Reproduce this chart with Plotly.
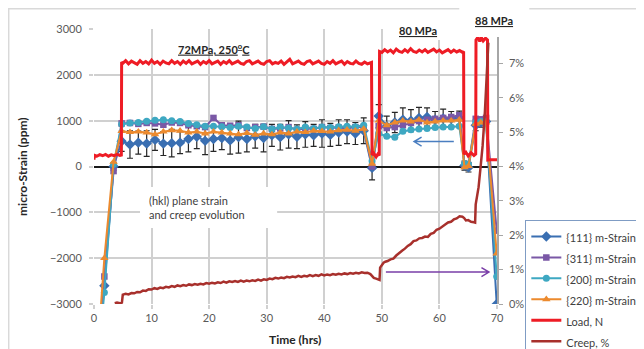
import plotly.graph_objects as go

# ---------------- data ----------------
# strain measurement times (hrs)
t_strain = [1.0, 1.8, 3.4,
            4.8, 6.25, 7.7, 9.15, 10.6, 12.05, 13.5, 14.95, 16.4, 17.85,
            19.3, 20.75, 22.2, 23.65, 25.1, 26.55, 28.0, 29.45, 30.9, 32.35,
            33.8, 35.25, 36.7, 38.15, 39.6, 41.05, 42.5, 43.95, 45.4, 46.85,
            48.3,
            49.45, 50.85, 52.25, 53.65, 55.05, 56.45, 57.85, 59.25, 60.65, 62.05, 63.45,
            64.35, 65.05,
            66.3, 67.2, 68.1,
            69.95]

strain_111 = [-3700, -2600, 0,
              550, 480, 520, 500, 580, 500, 510, 520, 600, 650,
              560, 600, 620, 570, 640, 600, 660, 620, 680, 640,
              700, 650, 700, 680, 720, 690, 740, 760, 720, 780,
              -30,
              1100, 880, 960, 1020, 1000, 1060, 1080, 1020, 1050, 1040, 1060,
              20, -20,
              900, 960, 980,
              -3000]
err_111 = [0, 0, 80,
           220, 300, 250, 280, 230, 260, 300, 240, 280, 260,
           300, 270, 250, 300, 350, 280, 260, 300, 240, 280,
           300, 260, 280, 240, 300, 250, 280, 260, 240, 280,
           260,
           250, 220, 220, 260, 240, 230, 200, 180, 200, 160, 150,
           100, 100,
           120, 100, 100,
           0]
strain_311 = [-4000, -2400, -100,
              940, 950, 930, 950, 940, 910, 960, 950, 900, 880,
              860, 1060, 900, 890, 900, 840, 860, 870, 820, 830,
              860, 800, 830, 820, 860, 840, 850, 830, 860, 860,
              0,
              880, 840, 860, 900, 950, 990, 1020, 1040, 1060, 1080, 1120,
              40, 30,
              1040, 1030, 1060,
              -1400]
strain_200 = [-3800, -2750, 50,
              920, 950, 960, 990, 1010, 1020, 1000, 980, 940, 910,
              880, 880, 870, 850, 880, 860, 830, 870, 820, 860,
              840, 820, 860, 830, 860, 850, 870, 880, 870, 900,
              120,
              720, 660, 640, 770, 800, 820, 830, 850, 860, 860, 880,
              60, 50,
              960, 980, 990,
              -2400]
strain_220 = [-3400, -2000, 100,
              770, 750, 760, 740, 700, 760, 790, 780, 740, 760,
              720, 760, 740, 720, 700, 730, 690, 720, 700, 740,
              720, 760, 750, 780, 770, 760, 790, 800, 780, 820,
              60,
              1000, 900, 960, 1000, 980, 1020, 960, 980, 1000, 1000, 1020,
              -20, 10,
              930, 960, 960,
              -1900]

# load (N) record
load_t = [0, 0.05, 0.5, 1, 1.5, 2, 2.5, 3, 3.5, 4, 4.5, 4.75,
          4.8, 5, 5.5, 6, 6.5, 7, 7.5, 8, 8.5, 9, 9.5, 10, 10.5, 11, 11.5, 12, 12.5,
          13, 13.5, 14, 14.5, 15, 15.5, 16, 16.5, 17, 17.5, 18, 18.5, 19, 19.5, 20,
          20.5, 21, 21.5, 22, 22.5, 23, 23.5, 24, 24.5, 25, 25.5, 26, 26.5, 27, 27.5,
          28, 28.5, 29, 29.5, 30, 30.5, 31, 31.5, 32, 32.5, 33, 33.5, 34, 34.5, 35,
          35.5, 36, 36.5, 37, 37.5, 38, 38.5, 39, 39.5, 40, 40.5, 41, 41.5, 42, 42.5,
          43, 43.5, 44, 44.5, 45, 45.5, 46, 46.5, 47, 47.5, 48, 48.2,
          48.3, 48.6, 49, 49.3, 49.55,
          49.6, 50, 50.5, 51, 51.5, 52, 52.5, 53, 53.5, 54, 54.5, 55, 55.5, 56, 56.5,
          57, 57.5, 58, 58.5, 59, 59.5, 60, 60.5, 61, 61.5, 62, 62.5, 63, 63.5, 64, 64.2,
          64.25, 64.6, 65, 65.5, 66, 66.3,
          66.35, 66.7, 67, 67.3, 67.6, 68, 68.35,
          68.4, 69, 70]
load_n = [150, 245, 225, 260, 235, 265, 225, 255, 235, 265, 240, 250,
          2280,
          2250, 2310, 2240, 2300, 2270, 2230, 2310, 2250, 2290, 2240,
          2320, 2250, 2290, 2230, 2300, 2260, 2240, 2310, 2250, 2290,
          2230, 2300, 2250, 2310, 2240, 2270, 2300, 2230, 2290, 2250,
          2310, 2240, 2270, 2300, 2230, 2290, 2250, 2310, 2240, 2270,
          2300, 2250, 2230, 2290, 2310, 2240, 2270, 2300, 2250, 2230,
          2290, 2310, 2240, 2270, 2250, 2300, 2230, 2290, 2340, 2240,
          2270, 2300, 2250, 2230, 2290, 2310, 2240, 2270, 2300, 2250,
          2230, 2290, 2250, 2310, 2240, 2270, 2300, 2230, 2290, 2250,
          2240, 2300, 2250, 2230, 2280, 2240, 2260,
          2270,
          250, 290, 210, 270, 240,
          2510,
          2490, 2550, 2500, 2540, 2480, 2560, 2510, 2490, 2550, 2500,
          2570, 2510, 2490, 2540, 2500, 2550, 2490, 2520, 2560, 2500,
          2540, 2480, 2520, 2550, 2490, 2540, 2500, 2530, 2490,
          2510,
          270, 310, 230, 300, 240, 270,
          2760, 2820, 2730, 2810, 2740, 2800, 2760,
          140, 150, 145]

# creep (%) record
creep_t = [3.6, 4.0, 4.5, 4.85,
           5, 5.5, 6, 6.5, 7, 7.5, 8, 8.5, 9, 9.5, 10, 10.5, 11, 11.5, 12, 12.5,
           13, 13.5, 14, 14.5, 15, 15.5, 16, 16.5, 17, 17.5, 18, 18.5, 19, 19.5, 20,
           20.5, 21, 21.5, 22, 22.5, 23, 23.5, 24, 24.5, 25, 25.5, 26, 26.5, 27, 27.5,
           28, 28.5, 29, 29.5, 30, 30.5, 31, 31.5, 32, 32.5, 33, 33.5, 34, 34.5, 35,
           35.5, 36, 36.5, 37, 37.5, 38, 38.5, 39, 39.5, 40, 40.5, 41, 41.5, 42, 42.5,
           43, 43.5, 44, 44.5, 45, 45.5, 46, 46.5, 47, 47.5, 48,
           48.3, 48.6, 49, 49.3, 49.6,
           49.7, 50, 50.3, 50.6, 51, 51.5, 52, 52.5, 53, 53.5, 54, 54.5, 55, 55.5, 56,
           56.5, 57, 57.5, 58, 58.5, 59, 59.5, 60, 60.5, 61, 61.5, 62, 62.5, 63, 63.5, 64,
           64.3, 64.6, 65, 65.5, 66, 66.2,
           66.3, 66.8, 67.1, 67.5, 67.9, 68.2, 68.5]
creep_pct = [0.02, 0.04, 0.02, 0.04,
             0.27, 0.30, 0.28, 0.32, 0.31, 0.35, 0.34, 0.39, 0.38, 0.43,
             0.42, 0.46, 0.44, 0.48, 0.46, 0.50, 0.48, 0.52, 0.50, 0.54,
             0.52, 0.55, 0.53, 0.57, 0.55, 0.58, 0.56, 0.59, 0.57, 0.61,
             0.59, 0.62, 0.60, 0.63, 0.61, 0.65, 0.62, 0.66, 0.64, 0.67,
             0.64, 0.68, 0.65, 0.68, 0.66, 0.69, 0.67, 0.71, 0.68, 0.72,
             0.70, 0.74, 0.72, 0.76, 0.74, 0.77, 0.75, 0.79, 0.77, 0.80,
             0.78, 0.82, 0.79, 0.82, 0.80, 0.84, 0.81, 0.84, 0.82, 0.86,
             0.83, 0.86, 0.84, 0.87, 0.85, 0.88, 0.86, 0.89, 0.87, 0.90,
             0.88, 0.91, 0.89, 0.92, 0.90, 0.91, 0.87,
             0.82, 0.76, 0.74, 0.72, 0.70,
             1.06, 1.15, 1.20, 1.23, 1.25, 1.30, 1.32, 1.41, 1.49, 1.55, 1.61, 1.69, 1.74,
             1.83, 1.85, 1.91, 1.92, 1.96, 1.95, 2.04, 2.07, 2.16, 2.19, 2.26, 2.31,
             2.37, 2.39, 2.46, 2.49, 2.55, 2.54,
             2.50, 2.43, 2.44, 2.39, 2.38, 2.37,
             2.90, 3.40, 3.90, 4.60, 5.60, 6.60, 7.60]

x_ticks = [0, 10, 20, 30, 40, 50, 60, 70]
y_ticks = [-3000, -2000, -1000, 0, 1000, 2000, 3000]
y2_ticks = [0, 1, 2, 3, 4, 5, 6, 7]
y2_labels = ["0%", "1%", "2%", "3%", "4%", "5%", "6%", "7%"]

# ---------------- styling ----------------
FONT = "Lato"
C111, C311, C200, C220 = "#3A6FB2", "#7A58A6", "#3EA8C2", "#EC8A2E"
CLOAD, CCREEP = "#EE1C25", "#A8302C"
GRID = "#D0D0D0"
OFF = 8                      # page (body) margin offset in screenshot
W, H = 644 - OFF, 349 - OFF
PL, PR, PT, PB = 94, 496.7, 29, 304   # plot area in screenshot pixels
L, T = PL - OFF, PT - OFF
R, B = W - (PR - OFF), H - (PB - OFF)
PW, PH = PR - PL, PB - PT


def px(x):
    return (x - PL) / PW


def py(y):
    return (PB - y) / PH


def lg(name):
    return '<span style="font-size:11px">' + name + '</span>'


fig = go.Figure()
fig.add_trace(go.Scatter(x=t_strain, y=strain_111, name=lg("{111} m-Strain"), mode="lines+markers",
                         line=dict(color=C111, width=2),
                         marker=dict(symbol="diamond", size=8, color=C111),
                         error_y=dict(type="data", array=err_111, color="#262626", thickness=1.2, width=3)))
fig.add_trace(go.Scatter(x=t_strain, y=strain_311, name=lg("{311} m-Strain"), mode="lines+markers",
                         line=dict(color=C311, width=2),
                         marker=dict(symbol="square", size=6.5, color=C311)))
fig.add_trace(go.Scatter(x=t_strain, y=strain_200, name=lg("{200} m-Strain"), mode="lines+markers",
                         line=dict(color=C200, width=2),
                         marker=dict(symbol="circle", size=7, color=C200)))
fig.add_trace(go.Scatter(x=t_strain, y=strain_220, name=lg("{220} m-Strain"), mode="lines+markers",
                         line=dict(color=C220, width=2),
                         marker=dict(symbol="triangle-up", size=7.5, color=C220)))
fig.add_trace(go.Scatter(x=load_t, y=load_n, name=lg("Load, N"), mode="lines",
                         line=dict(color=CLOAD, width=3)))
fig.add_trace(go.Scatter(x=creep_t, y=creep_pct, name=lg("Creep, %"), mode="lines",
                         line=dict(color=CCREEP, width=2.5), yaxis="y2"))

tickfont = dict(family=FONT, size=11, color="#595959")
fig.update_layout(
    width=W, height=H,
    margin=dict(l=L, r=R, t=T, b=B, autoexpand=False),
    paper_bgcolor="white", plot_bgcolor="white",
    font=dict(family=FONT, size=11, color="#404040"),
    xaxis=dict(range=[0, 70], tickvals=x_ticks, showgrid=True, gridcolor=GRID, gridwidth=1.5,
               ticks="outside", ticklen=4, tickcolor=GRID, tickwidth=1.5, showline=False,
               zeroline=False, tickfont=tickfont, automargin=False),
    yaxis=dict(range=[-3000, 3000], tickvals=y_ticks, showgrid=True, gridcolor=GRID, gridwidth=1.5,
               ticks="outside", ticklen=4, tickcolor=GRID, tickwidth=1.5, showline=False,
               zeroline=True, zerolinecolor="#1A1A1A", zerolinewidth=1.6, tickfont=tickfont,
               ticklabelstandoff=5, automargin=False),
    yaxis2=dict(range=[0, 8], overlaying="y", side="right", tickvals=y2_ticks, ticktext=y2_labels,
                showgrid=False, zeroline=False, showline=True, linecolor="#A6A6A6", linewidth=1.5,
                ticks="outside", ticklen=4, tickcolor="#A6A6A6", tickfont=tickfont,
                ticklabelstandoff=4, automargin=False),
    legend=dict(x=px(525), y=py(220), xanchor="left", yanchor="top", bgcolor="white",
                bordercolor="#7F9CC4", borderwidth=1, font=dict(family=FONT, size=13.8, color="#404040"),
                tracegroupgap=0, itemwidth=30),
    showlegend=True,
)

# outer chart border
fig.add_shape(type="rect", xref="paper", yref="paper", x0=px(8.5), x1=px(640), y0=py(356), y1=py(8.5),
              line=dict(color="#D9D9D9", width=2), fillcolor="rgba(0,0,0,0)", layer="below")
# white text boxes
fig.add_shape(type="rect", xref="paper", yref="paper", x0=px(393), x1=px(446), y0=py(40), y1=py(18),
              line=dict(width=0), fillcolor="white", layer="above")
fig.add_shape(type="rect", xref="paper", yref="paper", x0=px(459), x1=px(529), y0=py(37), y1=py(7),
              line=dict(width=0), fillcolor="white", layer="above")
fig.add_shape(type="rect", xref="paper", yref="paper", x0=px(140), x1=px(277), y0=py(228), y1=py(187),
              line=dict(width=0), fillcolor="white", layer="above")

# arrows
fig.add_shape(type="path", xref="x", yref="y",
              path="M 62.5,543 L 55.6,543 M 56.9,640 L 55.6,543 L 56.9,446",
              line=dict(color="#4A7EC0", width=1.5), layer="above")
fig.add_shape(type="path", xref="x", yref="y",
              path="M 50.7,-2304 L 68.6,-2304 M 67.3,-2207 L 68.6,-2304 L 67.3,-2401",
              line=dict(color="#7A3FA8", width=1.5), layer="above")

ufont = dict(family=FONT, size=11, color="#262626", weight="bold", lineposition="under")
fig.add_annotation(x=px(213.5), y=py(48), xanchor="center", yanchor="middle", text="72MPa, 250<sup>o</sup>C",
                   font=ufont, xref="paper", yref="paper", showarrow=False)
fig.add_annotation(x=px(418), y=py(30), xanchor="center", yanchor="middle", text="80 MPa",
                   font=ufont, xref="paper", yref="paper", showarrow=False)
fig.add_annotation(x=px(494), y=py(20), xanchor="center", yanchor="middle", text="88 MPa",
                   font=ufont, xref="paper", yref="paper", showarrow=False)
fig.add_annotation(x=px(147), y=py(207), xanchor="left", yanchor="middle", align="left",
                   text="(hkl) plane strain<br>and creep evolution",
                   font=dict(family=FONT, size=11, color="#404040"), xref="paper", yref="paper", showarrow=False)
# axis titles
fig.add_annotation(x=px(22), y=py(166), xanchor="center", yanchor="middle",
                   text="<b>micro-Strain (ppm)</b>", textangle=-90,
                   font=dict(family=FONT, size=12, color="#262626"), xref="paper", yref="paper", showarrow=False)
fig.add_annotation(x=px(295), y=py(339), xanchor="center", yanchor="middle", text="<b>Time (hrs)</b>",
                   font=dict(family=FONT, size=12, color="#262626"), xref="paper", yref="paper", showarrow=False)

fig.write_html("out.html")
